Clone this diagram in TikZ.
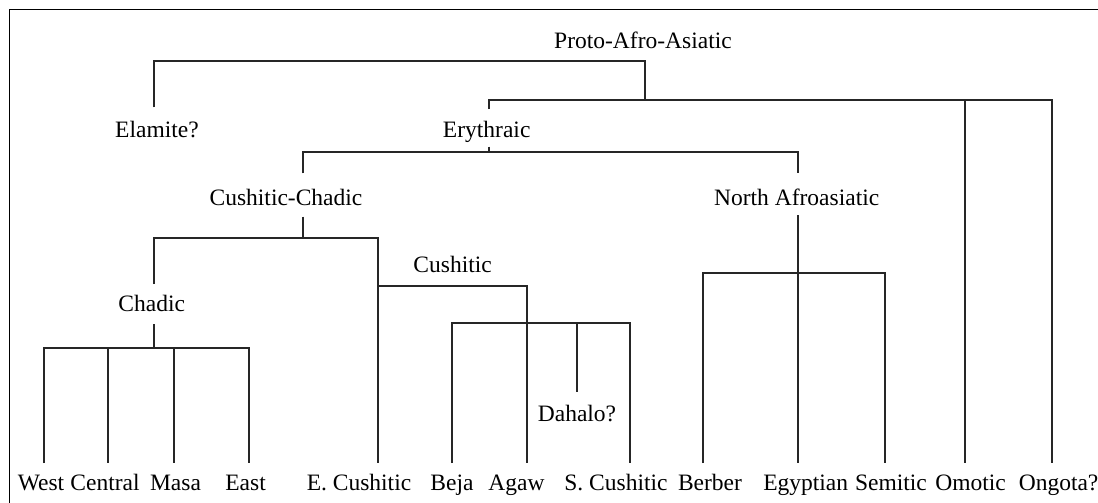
\documentclass[tikz,border=0pt]{standalone}
\usepackage{fontspec}
\setmainfont{Liberation Serif}
\begin{document}
\begin{tikzpicture}[x=1pt,y=-1pt,
  lbl/.style={anchor=base,inner sep=0pt,font=\fontsize{23.5}{27}\selectfont},
  br/.style={line width=2pt,black!85},
  frame/.style={line width=1.3pt}]
\useasboundingbox (0,0) rectangle (1098,503);
\fill[white] (0,0) rectangle (1098,503);
% frame
\coordinate (fB) at (9.5,503);
\coordinate (fC) at (9.5,9.3);
\coordinate (fR) at (1098,9.3);
\draw[frame] (fB) -- (fC) -- (fR);
% labels
\node[lbl] (pa) at (643,49) {Proto-Afro-Asiatic};
\node[lbl] (el) at (157,137) {Elamite?};
\node[lbl] (er) at (486.7,137) {Erythraic};
\node[lbl] (cc) at (286,205) {Cushitic-Chadic};
\node[lbl] (na) at (796.7,205) {North Afroasiatic};
\node[lbl] (cu) at (452.6,272) {Cushitic};
\node[lbl] (ch) at (151.7,311) {Chadic};
\node[lbl] (da) at (577,421.7) {Dahalo?};
\node[lbl] (we) at (41,490) {West};
\node[lbl] (ce) at (105,490) {Central};
\node[lbl] (ma) at (175.5,490) {Masa};
\node[lbl] (ea) at (245.6,490) {East};
\node[lbl] (ec) at (359,490) {E. Cushitic};
\node[lbl] (be) at (452,490) {Beja};
\node[lbl] (ag) at (516.5,490) {Agaw};
\node[lbl] (sc) at (616,490) {S. Cushitic};
\node[lbl] (bb) at (710,490) {Berber};
\node[lbl] (eg) at (805.7,490) {Egyptian};
\node[lbl] (se) at (891,490) {Semitic};
\node[lbl] (om) at (970.6,490) {Omotic};
\node[lbl] (on) at (1058.6,490) {Ongota?};
% junction coordinates
\coordinate (elT) at (153.6,107.3);
\coordinate (t1) at (153.6,60.7);
\coordinate (t2) at (645,60.7);
\coordinate (t3) at (645,100);
\coordinate (erT) at (489,109);
\coordinate (erU) at (489,100);
\coordinate (omU) at (964.7,100);
\coordinate (onU) at (1052,100);
\coordinate (erB) at (489,146.7);
\coordinate (erJ) at (489,151.7);
\coordinate (ccU) at (302.7,151.7);
\coordinate (ccT) at (302.7,173.3);
\coordinate (naU) at (797.7,151.7);
\coordinate (naT) at (797.7,173.3);
\coordinate (ccB) at (302.7,216.7);
\coordinate (ccJ) at (302.7,238.3);
\coordinate (chU) at (154.3,238.3);
\coordinate (chT) at (154.3,284);
\coordinate (ecU) at (378,238.3);
\coordinate (cuJ) at (378,285.5);
\coordinate (agU) at (526.5,285.5);
\coordinate (chB) at (154,324);
\coordinate (chJ) at (154,348);
\coordinate (weU) at (43.8,348);
\coordinate (ceU) at (107.7,348);
\coordinate (maU) at (173.6,348);
\coordinate (eaU) at (249,348);
\coordinate (beU) at (451.8,322.5);
\coordinate (daU) at (577.3,322.5);
\coordinate (daT) at (577.3,391.7);
\coordinate (scU) at (629.5,322.5);
\coordinate (naB) at (797.7,215);
\coordinate (bbU) at (703.4,272.7);
\coordinate (seU) at (884.7,272.7);
% leaf line ends
\coordinate (weE) at (43.8,463);
\coordinate (ceE) at (107.7,463);
\coordinate (maE) at (173.6,463);
\coordinate (eaE) at (249,463);
\coordinate (ecE) at (378,463);
\coordinate (beE) at (451.8,463);
\coordinate (agE) at (526.5,463);
\coordinate (scE) at (629.5,463);
\coordinate (bbE) at (703.4,463);
\coordinate (egE) at (797.7,463);
\coordinate (seE) at (884.7,463);
\coordinate (omE) at (964.7,463);
\coordinate (onE) at (1052,463);
% tree
\draw[br] (elT) -- (t1) -- (t2) -- (t3);
\draw[br] (erT) -- (erU) -- (onU) -- (onE);
\draw[br] (omU) -- (omE);
\draw[br] (erB) -- (erJ);
\draw[br] (ccT) -- (ccU) -- (naU) -- (naT);
\draw[br] (ccB) -- (ccJ);
\draw[br] (chT) -- (chU) -- (ecU) -- (ecE);
\draw[br] (cuJ) -- (agU) -- (agE);
\draw[br] (chB) -- (chJ);
\draw[br] (weE) -- (weU) -- (eaU) -- (eaE);
\draw[br] (ceU) -- (ceE);
\draw[br] (maU) -- (maE);
\draw[br] (beE) -- (beU) -- (scU) -- (scE);
\draw[br] (daU) -- (daT);
\draw[br] (naB) -- (egE);
\draw[br] (bbE) -- (bbU) -- (seU) -- (seE);
\end{tikzpicture}
\end{document}
